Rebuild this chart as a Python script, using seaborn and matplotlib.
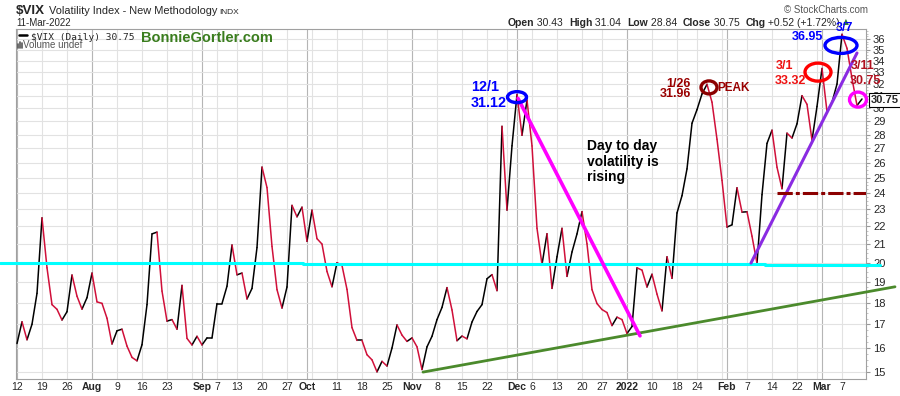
"""
plot.py - $VIX daily chart, Jul 2021 .. Mar 2022, StockCharts style with annotations
"""

import matplotlib
matplotlib.use("Agg")
import numpy as np
import pandas as pd
import matplotlib.pyplot as plt
import seaborn as sns
from matplotlib.lines import Line2D
from matplotlib.patches import Ellipse
from matplotlib.transforms import Affine2D, ScaledTranslation
from matplotlib.ticker import FixedLocator, NullFormatter

W, H = 900, 396

# $VIX daily closes by month (trading days only), 12-Jul-2021 .. 11-Mar-2022
vix_jul = [16.17, 17.12, 16.33, 17.01, 18.45, 22.50, 19.73, 17.91, 17.69, 17.20,
           17.58, 19.36, 18.31, 17.70, 18.24]
vix_aug = [19.46, 18.04, 17.97, 17.28, 16.15, 16.72, 16.79, 16.06, 15.59, 15.45,
           16.12, 17.91, 21.57, 21.67, 18.56, 17.15, 17.22, 16.79, 18.84, 16.39,
           16.11, 16.48]
vix_sep = [16.11, 16.41, 16.41, 17.96, 17.96, 18.80, 20.95, 19.37, 19.46, 18.18,
           18.69, 20.81, 25.71, 24.36, 20.87, 18.63, 17.75, 18.76, 23.25, 22.56,
           23.14]
vix_oct = [21.15, 22.96, 21.30, 21.00, 19.54, 18.77, 20.00, 19.85, 18.64, 16.86,
           16.30, 16.30, 15.70, 15.49, 15.01, 15.43, 15.24, 15.98, 16.98, 16.53,
           16.26]
vix_nov = [16.41, 16.03, 15.10, 16.03, 16.48, 17.22, 17.78, 18.73, 17.66, 16.29,
           16.49, 16.37, 17.11, 17.59, 17.91, 19.17, 19.38, 18.58, 28.62, 22.96,
           27.19]
vix_dec = [31.12, 27.95, 30.67, 27.18, 21.89, 19.90, 21.58, 18.69, 20.31, 21.89,
           19.29, 20.57, 21.57, 22.87, 21.01, 18.63, 17.96, 17.68, 17.54, 16.95,
           17.33, 17.22]
vix_jan = [16.60, 16.91, 19.73, 19.61, 18.76, 19.40, 18.41, 17.62, 20.31, 19.19,
           22.79, 23.85, 25.59, 28.85, 29.90, 31.16, 31.96, 30.49, 27.66, 24.83]
vix_feb = [21.96, 22.09, 24.35, 22.84, 22.86, 21.44, 19.96, 23.91, 27.36, 28.33,
           25.70, 24.29, 28.11, 27.75, 28.81, 31.02, 30.32, 27.59, 30.15]
vix_mar = [33.32, 29.74, 30.48, 31.98, 36.45, 35.13, 32.45, 30.23, 30.75]

# x axis: trading-day index of labelled dates
tick_pos = [0, 5, 10, 15, 20, 25, 30, 37, 40, 44, 49, 54, 58, 64, 69, 74, 79, 84,
            89, 94, 100, 103, 108, 113, 117, 122, 127, 132, 136, 142, 146, 151,
            156, 161, 165]
tick_text = ["12", "19", "26", "Aug", "9", "16", "23", "Sep", "7", "13", "20", "27",
             "Oct", "11", "18", "25", "Nov", "8", "15", "22", "Dec", "6", "13",
             "20", "27", "2022", "10", "18", "24", "Feb", "7", "14", "22", "Mar", "7"]
month_text = ["Aug", "Sep", "Oct", "Nov", "Dec", "2022", "Feb", "Mar"]
week_lines = [0, 5, 10, 15, 20, 25, 30, 35, 40, 44, 49, 54, 59, 64, 69, 74, 79, 84,
              89, 94, 98, 103, 108, 113, 117, 122, 127, 132, 136, 141, 146, 151,
              156, 160, 165]
month_lines = [0, 15, 37, 58, 79, 100, 122, 142, 161]
y_ticks = list(range(15, 37))

vix = vix_jul + vix_aug + vix_sep + vix_oct + vix_nov + vix_dec + vix_jan + vix_feb + vix_mar
n = len(vix)

# one little two-point line per day: black when VIX rose, red when it fell
rows = []
for i in range(n - 1):
    d = "up" if vix[i + 1] >= vix[i] else "down"
    rows.append((i, i, vix[i], d))
    rows.append((i, i + 1, vix[i + 1], d))
seg = pd.DataFrame(rows, columns=["seg", "day", "vix", "dir"])

sns.set_style("white")
plt.rcParams["font.family"] = ["Liberation Sans", "DejaVu Sans"]

fig = plt.figure(figsize=(W / 100, H / 100), dpi=100)
fig.patch.set_facecolor("white")
ax = fig.add_axes([16 / W, 1 - 379 / H, 850 / W, 350 / H])


def fx(px):
    return px / W


def fy(py):
    return 1 - py / H


for p in week_lines:
    ax.axvline(p, color="#e2e2e2", lw=0.8, zorder=0)
for p in month_lines:
    ax.axvline(p, color="#b5b5b5", lw=0.8, zorder=0)

sns.lineplot(data=seg, x="day", y="vix", hue="dir", units="seg", estimator=None,
             palette={"up": "black", "down": "#d0103a"}, lw=1.1, legend=False,
             ax=ax, zorder=3)

ax.set_yscale("log")
ax.set_yticks(y_ticks, [str(v) for v in y_ticks])
ax.yaxis.set_minor_locator(FixedLocator(np.arange(15, 37, 0.25)))
ax.yaxis.set_minor_formatter(NullFormatter())
ax.set_ylim(14.73, 36.96)
ax.set_xlim(-0.2, 169.8)
ax.yaxis.tick_right()
ax.grid(axis="y", which="major", color="#e2e2e2", lw=0.8, zorder=0)
ax.tick_params(axis="y", which="major", length=3, width=0.8, color="#999999",
               labelsize=8, pad=2)
ax.tick_params(axis="y", which="minor", length=1.5, width=0.6, color="#bbbbbb")

ax.set_xticks(tick_pos, tick_text)
ax.xaxis.set_minor_locator(FixedLocator(range(n)))
ax.tick_params(axis="x", which="major", length=0, labelsize=7.5, pad=2.5)
ax.tick_params(axis="x", which="minor", length=2, width=0.6, color="#bbbbbb")
for lbl in ax.get_xticklabels():
    if lbl.get_text() in month_text:
        lbl.set_fontweight("bold")
ax.set_xlabel("")
ax.set_ylabel("")
for s in ax.spines.values():
    s.set_color("#a0a0a0")
    s.set_linewidth(0.8)

# --- drawn-on annotations ---
# support (cyan) at 20, slightly stepped like the hand drawing
ax.plot([-3.4, 57.2], [19.98, 19.98], color="#00ffff", lw=2.2, clip_on=False, zorder=4)
ax.plot([57.2, 149.6], [19.93, 19.93], color="#00ffff", lw=2.2, clip_on=False, zorder=4)
ax.plot([149.6, 172.6], [19.88, 19.88], color="#00ffff", lw=2.2, clip_on=False, zorder=4)
ax.plot([81.2, 175.6], [15.0, 18.77], color="#4b8a2c", lw=2.0, clip_on=False, zorder=4)
ax.plot([100.2, 124.6], [30.8, 16.5], color="#ff00ff", lw=2.6, zorder=4)
ax.plot([146.8, 168.0], [19.98, 34.7], color="#8a2be2", lw=2.2, zorder=4)
ax.plot([152, 169.8], [24.0, 24.0], color="#8b0000", lw=2.2, dashes=(5, 1, 1.3, 1),
        solid_capstyle="butt", dash_capstyle="butt", zorder=4)


def px_ellipse(xd, yd, w, h, color, lw=2.4):
    tr = Affine2D().scale(1 / 100) + fig.dpi_scale_trans + ScaledTranslation(xd, yd, ax.transData)
    e = Ellipse((0, 0), w, h, fill=False, ec=color, lw=lw, transform=tr,
                clip_on=False, zorder=5)
    ax.add_artist(e)


px_ellipse(100.0, 30.9, 19, 11, "#0000ff")
px_ellipse(138.4, 31.7, 16, 13, "#8b0000")
px_ellipse(160.2, 33.0, 26, 18, "#ff0000")
px_ellipse(164.8, 35.4, 32, 16, "#0000ff")
px_ellipse(168.2, 30.7, 17, 15, "#ff00ff")

bold = dict(fontweight="bold", va="baseline")
fig.text(fx(471), fy(91), "12/1", color="#0000ff", fontsize=10.4, **bold)
fig.text(fx(471), fy(107), "31.12", color="#0000ff", fontsize=10.4, **bold)
fig.text(fx(691), fy(87), "1/26", color="#990000", fontsize=9, ha="right", **bold)
fig.text(fx(691), fy(97), "31.96", color="#990000", fontsize=9, ha="right", **bold)
fig.text(fx(717), fy(91), "PEAK", color="#990000", fontsize=8.5, **bold)
fig.text(fx(776), fy(69), "3/1", color="#ee1111", fontsize=9, **bold)
fig.text(fx(775), fy(84), "33.32", color="#ee1111", fontsize=9, **bold)
fig.text(fx(792), fy(40), "36.95", color="#0000ff", fontsize=9, **bold)
fig.text(fx(836), fy(31), "3/7", color="#0000ff", fontsize=9, **bold)
fig.text(fx(851), fy(69), "3/11", color="#b0101e", fontsize=9, **bold)
fig.text(fx(850), fy(84), "30.75", color="#b0101e", fontsize=9, **bold)
fig.text(fx(587), fy(139), "Day to day\nvolatility is\nrising", color="black",
         fontsize=10, fontweight="bold", va="top", linespacing=1.15)

# last value tag on the price axis
fig.text(fx(871), fy(100), "30.75", fontsize=8, fontweight="bold", va="center",
         ha="left", zorder=10,
         bbox=dict(boxstyle="square,pad=0.15", fc="white", ec="black", lw=0.8))

# --- header ---
fig.text(fx(16), fy(13.5), "\\$VIX", fontsize=9.6, fontweight="bold", va="baseline")
fig.text(fx(49), fy(13.5), "Volatility Index - New Methodology", fontsize=7.9, va="baseline")
fig.text(fx(219), fy(13.5), "INDX", fontsize=6, va="baseline")
fig.text(fx(16), fy(26), "11-Mar-2022", fontsize=7, va="baseline")
fig.text(fx(868), fy(13), "\u00a9 StockCharts.com", fontsize=7, color="#555555",
         ha="right", va="baseline")

hdr = [("Open", "bold"), (" 30.43  ", "normal"), ("High", "bold"), (" 31.04  ", "normal"),
       ("Low", "bold"), (" 28.84  ", "normal"), ("Close", "bold"), (" 30.75  ", "normal"),
       ("Chg", "bold"), (" +0.52 (+1.72%) ", "normal")]
t = fig.text(fx(508), fy(28), hdr[0][0], fontsize=7.5, fontweight="bold", va="bottom")
for s, w in hdr[1:]:
    t = ax.annotate(s, xy=(1, 0), xycoords=t, va="bottom", ha="left", fontsize=7.5,
                    fontweight=w, annotation_clip=False)
ax.annotate("\u25b2", xy=(1, 0.15), xycoords=t, va="bottom", ha="left", fontsize=5.5,
            color="#2e7d32", family=["DejaVu Sans"], annotation_clip=False)

# legend line inside the plot
fig.add_artist(Line2D([fx(19), fx(27)], [fy(35), fy(35)], color="black", lw=1.8,
                      transform=fig.transFigure))
fig.text(fx(31), fy(39.5), "\\$VIX (Daily) 30.75", fontsize=6.8,
         family=["DejaVu Sans Mono"], va="baseline")
for bx, bh in zip([17.5, 19.5, 21.5], [4, 6, 5]):
    fig.add_artist(Line2D([fx(bx), fx(bx)], [fy(47.5), fy(47.5 - bh)], color="#555555",
                          lw=1.2, transform=fig.transFigure))
fig.text(fx(23), fy(47.5), "Volume undef", fontsize=7, color="#555555", va="baseline")
fig.text(fx(141), fy(42.5), "BonnieGortler.com", fontsize=10.5, fontweight="bold",
         color="#3a7d1e", va="baseline")

fig.savefig("out.png", dpi=100, facecolor="white")
